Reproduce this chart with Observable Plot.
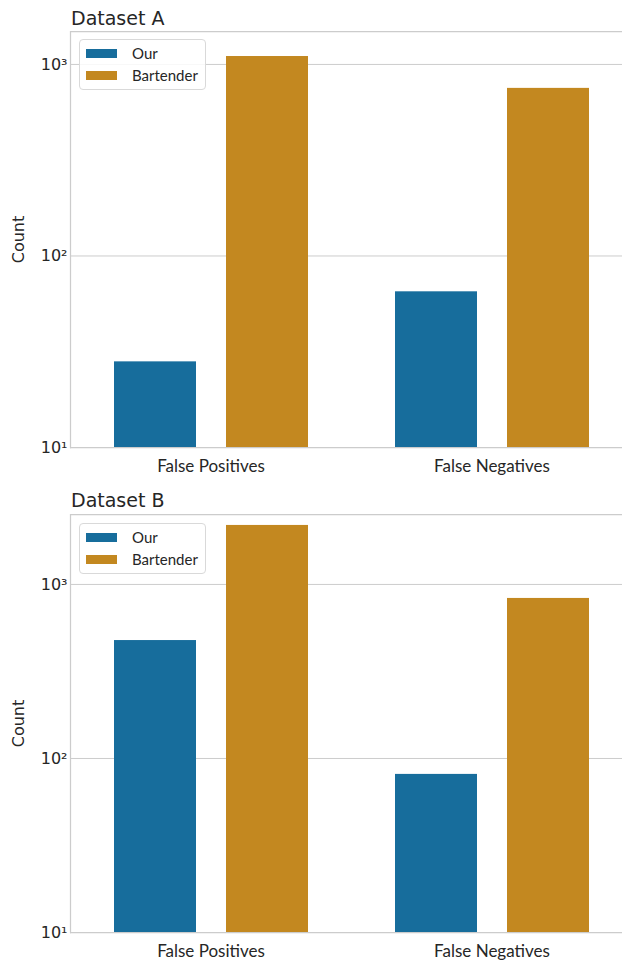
<!DOCTYPE html>
<html>
<head>
<meta charset="utf-8">
<script src="https://cdn.jsdelivr.net/npm/d3@7"></script>
<script src="https://cdn.jsdelivr.net/npm/@observablehq/plot@0.6"></script>
<style>
  body { margin: 0; background: #fff; }
  #root { position: relative; width: 622px; height: 961px; overflow: hidden; background: #fff; }
  .panel { position: absolute; left: 0; width: 622px; }
  .panel svg { position: absolute; left: 0; top: 0; overflow: hidden; }
  .title { position: absolute; left: 71px; font-family: "DejaVu Sans"; font-size: 19px; line-height: 19px; color: #262626; white-space: nowrap; }
  .legend { position: absolute; left: 79px; width: 127px; height: 51px; box-sizing: border-box;
            border: 1px solid #d9d9d9; border-radius: 4px; background: rgba(255,255,255,0.85);
            font-family: Lato; font-size: 15px; color: #262626; }
  .legend .item { position: absolute; left: 6px; height: 20px; display: flex; align-items: center; }
  .legend .sw { width: 31px; height: 9px; margin-right: 15px; }
</style>
</head>
<body>
<div id="root"></div>
<script>
// ---- data ----
const categories = ["False Positives", "False Negatives"];
const methods = ["Our", "Bartender"];
const methodColors = ["#176d9c", "#c38820"];
const ourA = [28, 65];
const bartenderA = [1100, 750];
const ourB = [476, 81];
const bartenderB = [2183, 831];
const yTicks = [10, 100, 1000];
const yTickLabels = ["10¹", "10²", "10³"];
const yMaxA = 1486;
const yMaxB = 2523;
const titles = ["Dataset A", "Dataset B"];

function rows(our, bart) {
  return categories.flatMap((c, i) => [
    {category: c, method: methods[0], count: our[i]},
    {category: c, method: methods[1], count: bart[i]}
  ]);
}

function panel(data, yMax, opts) {
  return Plot.plot({
    width: 622,
    height: opts.height,
    marginLeft: 70,
    marginRight: -10,
    marginTop: opts.marginTop,
    marginBottom: opts.marginBottom,
    style: {background: "#fff", color: "#262626", overflow: "hidden"},
    fx: {domain: categories, padding: 0, label: null},
    x: {domain: methods, paddingInner: 0.268, paddingOuter: 0.384, axis: null},
    y: {type: "log", domain: [10, yMax], axis: null},
    color: {domain: methods, range: methodColors},
    marks: [
      Plot.gridY({ticks: yTicks.slice(1), stroke: "#cccccc", strokeOpacity: 1, strokeWidth: 1}),
      Plot.barY(data, {fx: "category", x: "method", y1: 10, y2: "count", fill: "method"}),
      Plot.ruleY([10, yMax], {stroke: "#cccccc", strokeWidth: 1.25}),
      Plot.frame({anchor: "left", facet: "super", stroke: "#cccccc", strokeWidth: 1.25}),
      Plot.axisY({
        ticks: yTicks, tickFormat: d => yTickLabels[yTicks.indexOf(d)],
        tickSize: 0, tickPadding: 3,
        fontFamily: "DejaVu Sans", fontSize: 16,
        label: "Count", labelArrow: "none", labelAnchor: "center", labelOffset: 58
      }),
      Plot.axisFx({anchor: "bottom", tickSize: 0, tickPadding: 12, fontFamily: "Lato", fontSize: 17, label: null})
    ]
  });
}

const root = document.getElementById("root");
const configs = [
  {data: rows(ourA, bartenderA), yMax: yMaxA, top: 0, height: 480, marginTop: 31, marginBottom: 33, titleTop: 9, legendTop: 39},
  {data: rows(ourB, bartenderB), yMax: yMaxB, top: 480, height: 481, marginTop: 34, marginBottom: 29, titleTop: 11, legendTop: 43}
];
configs.forEach((cfg, k) => {
  const div = document.createElement("div");
  div.className = "panel";
  div.style.top = cfg.top + "px";
  div.style.height = cfg.height + "px";
  div.appendChild(panel(cfg.data, cfg.yMax, cfg));
  const t = document.createElement("div");
  t.className = "title";
  t.style.top = cfg.titleTop + "px";
  t.textContent = titles[k];
  div.appendChild(t);
  const lg = document.createElement("div");
  lg.className = "legend";
  lg.style.top = cfg.legendTop + "px";
  methods.forEach((m, i) => {
    const it = document.createElement("div");
    it.className = "item";
    it.style.top = (3 + i * 22) + "px";
    const sw = document.createElement("div");
    sw.className = "sw";
    sw.style.background = methodColors[i];
    const lb = document.createElement("span");
    lb.textContent = m;
    it.appendChild(sw);
    it.appendChild(lb);
    lg.appendChild(it);
  });
  div.appendChild(lg);
  root.appendChild(div);
});
</script>
</body>
</html>
